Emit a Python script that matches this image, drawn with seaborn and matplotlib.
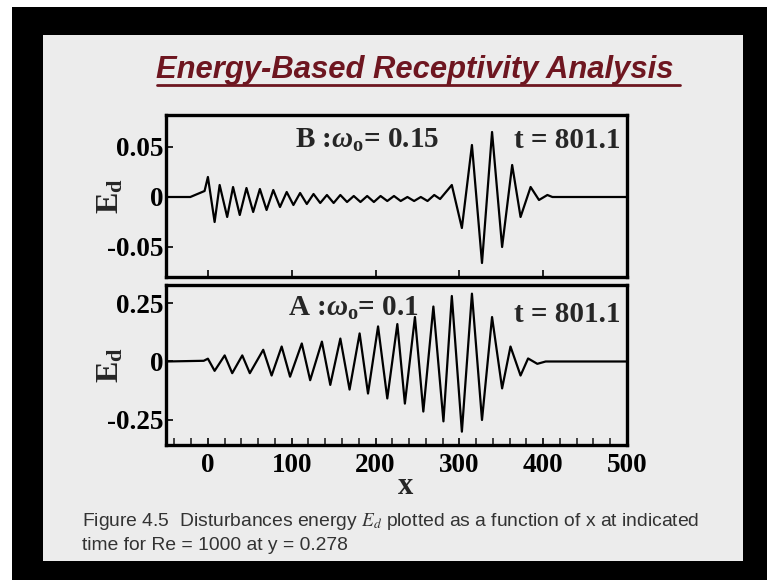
import numpy as np
import pandas as pd
import matplotlib.pyplot as plt
import seaborn as sns
from matplotlib.patches import Rectangle
from matplotlib.lines import Line2D

# Style
sns.set_theme(style="white")
plt.rcParams['font.family'] = ['Liberation Serif', 'DejaVu Serif']
plt.rcParams['axes.unicode_minus'] = False
plt.rcParams['mathtext.fontset'] = 'custom'
plt.rcParams['mathtext.rm'] = 'Liberation Serif:bold'
plt.rcParams['mathtext.bf'] = 'Liberation Serif:bold'
plt.rcParams['mathtext.it'] = 'Liberation Serif:bold:italic'

# Case B: omega_o = 0.15 (peaks / troughs)
x_b = [-50, -21, -4, 0, 8, 14, 23, 30, 38, 46, 54, 62, 70, 78, 86, 94, 102,
       110, 118, 126, 134, 142, 150, 158, 166, 174, 182, 190, 198, 206, 214,
       222, 230, 238, 246, 254, 262, 270, 277, 291, 303, 315, 327, 339, 351,
       363, 373, 385, 395, 405, 411, 500]
e_b = [0, 0, 0.006, 0.02, -0.025, 0.012, -0.02, 0.01, -0.018, 0.009, -0.015,
       0.008, -0.013, 0.007, -0.01, 0.005, -0.008,
       0.004, -0.007, 0.003, -0.006, 0.002, -0.006, 0.002, -0.005, 0.001,
       -0.005, 0.001, -0.005, 0.001, -0.004, 0.001, -0.004, 0.0, -0.004, 0.0,
       -0.004, 0.002, -0.002, 0.012, -0.031, 0.052, -0.066, 0.065, -0.05,
       0.032, -0.02, 0.01, -0.003, 0.002, 0, 0]

# Case A: omega_o = 0.1
x_a = [-50, -5, 0, 8, 20, 29, 41, 50, 66, 76, 88, 98, 112, 122, 136, 146,
       158, 169, 181, 191, 203, 214, 226, 235, 247, 257, 269, 281, 291, 303,
       315, 327, 339, 351, 361, 373, 382, 393, 403, 500]
e_a = [0, 0.003, 0.012, -0.04, 0.026, -0.05, 0.026, -0.05, 0.05, -0.06,
       0.064, -0.065, 0.077, -0.08, 0.085, -0.10, 0.098, -0.12, 0.12, -0.137,
       0.15, -0.158, 0.16, -0.18, 0.19, -0.214, 0.235, -0.256, 0.28, -0.30,
       0.29, -0.25, 0.19, -0.115, 0.064, -0.06, 0.013, -0.01, 0, 0]

x_ticks = [0, 100, 200, 300, 400, 500]
x_tick_labels = ["0", "100", "200", "300", "400", "500"]
yb_ticks = [-0.05, 0, 0.05]
yb_labels = ["-0.05", "0", "0.05"]
ya_ticks = [-0.25, 0, 0.25]
ya_labels = ["-0.25", "0", "0.25"]

W, H = 767, 580
slide_bg = "#ececec"

fig = plt.figure(figsize=(W / 100, H / 100), dpi=100, facecolor="black")

# slide background with the black frame around it
fig.patches.append(Rectangle((0, 1 - 7 / H), 1, 7 / H, transform=fig.transFigure,
                             facecolor="white", edgecolor="none", zorder=-10))
fig.patches.append(Rectangle((0, 0), 12 / W, 1, transform=fig.transFigure,
                             facecolor="white", edgecolor="none", zorder=-10))
fig.patches.append(Rectangle((43 / W, 1 - 561 / H), 700 / W, 526 / H,
                             transform=fig.transFigure, facecolor=slide_bg,
                             edgecolor="none", zorder=-10))

# title
fig.text(415 / W, 1 - 78 / H, "Energy-Based Receptivity Analysis", ha="center",
         va="baseline", fontsize=22.3, fontweight="bold", style="italic",
         family="Liberation Sans", color="#6e1620")
fig.lines.append(Line2D([157 / W, 680 / W], [1 - 85 / H, 1 - 85 / H],
                        transform=fig.transFigure, color="#6e1620", lw=2))

ax_b = fig.add_axes([166 / W, 1 - 277 / H, 461 / W, 162 / H])
ax_a = fig.add_axes([166 / W, 1 - 445 / H, 461 / W, 160 / H])

df_b = pd.DataFrame({"x": x_b, "E": e_b})
df_a = pd.DataFrame({"x": x_a, "E": e_a})
sns.lineplot(data=df_b, x="x", y="E", ax=ax_b, color="black", lw=1.6,
             sort=False, estimator=None, solid_joinstyle="round")
sns.lineplot(data=df_a, x="x", y="E", ax=ax_a, color="black", lw=1.6,
             sort=False, estimator=None, solid_joinstyle="round")

tick_font = dict(fontsize=19.5, fontweight="bold")
for ax in (ax_b, ax_a):
    ax.set_facecolor(slide_bg)
    ax.set_xlim(-50, 500)
    for s in ax.spines.values():
        s.set_linewidth(2.4)
        s.set_color("black")
    ax.tick_params(axis="both", direction="in", length=5, width=1.2, pad=2,
                   colors="black", left=True, bottom=True, top=False, right=False)
    ax.set_xlabel("")
    ax.set_ylabel(r"E$_\mathrm{d}$", fontsize=23, fontweight="bold")
    # label sits beside the short "0" tick label, as in the slide
    ax.yaxis.set_label_coords(-0.088, 0.5)

ax_b.set_ylim(-0.08, 0.082)
ax_b.set_xticks([0, 100, 200, 300, 400])
ax_b.set_xticklabels([])
ax_b.set_yticks(yb_ticks)
ax_b.set_yticklabels(yb_labels, **tick_font)

ax_a.set_ylim(-0.357, 0.327)
ax_a.set_xticks(x_ticks)
ax_a.set_xticklabels(x_tick_labels, **tick_font)
ax_a.set_xticks(np.arange(-40, 500, 20), minor=True)
ax_a.tick_params(axis="x", which="minor", direction="in", length=5, width=1.2,
                 bottom=True)
ax_a.tick_params(axis="x", which="major", pad=6)
ax_a.set_yticks(ya_ticks)
ax_a.set_yticklabels(ya_labels, **tick_font)
ax_a.set_xlabel("x", fontsize=22, fontweight="bold", labelpad=-4)
ax_a.xaxis.set_label_coords(0.52, -0.17)

# annotations
ann = dict(fontsize=21, fontweight="bold", va="baseline")
ax_b.text(0.28, 0.796, r"B :$\omega_\mathrm{o}$= 0.15", transform=ax_b.transAxes,
          ha="left", **ann)
ax_b.text(0.985, 0.796, "t = 801.1", transform=ax_b.transAxes, ha="right", **ann)
ax_a.text(0.265, 0.81, r"A :$\omega_\mathrm{o}$= 0.1", transform=ax_a.transAxes,
          ha="left", **ann)
ax_a.text(0.985, 0.77, "t = 801.1", transform=ax_a.transAxes, ha="right", **ann)

# caption
cap = dict(fontsize=13.9, family="Liberation Sans", color="#333333",
           va="baseline", math_fontfamily="stix")
fig.text(82 / W, 1 - 526 / H,
         "Figure 4.5  Disturbances energy $E_d$ plotted as a function of x at indicated",
         **cap)
fig.text(82 / W, 1 - 550 / H, "time for Re = 1000 at y = 0.278", **cap)

fig.savefig("out.png", dpi=100, facecolor=fig.get_facecolor())
